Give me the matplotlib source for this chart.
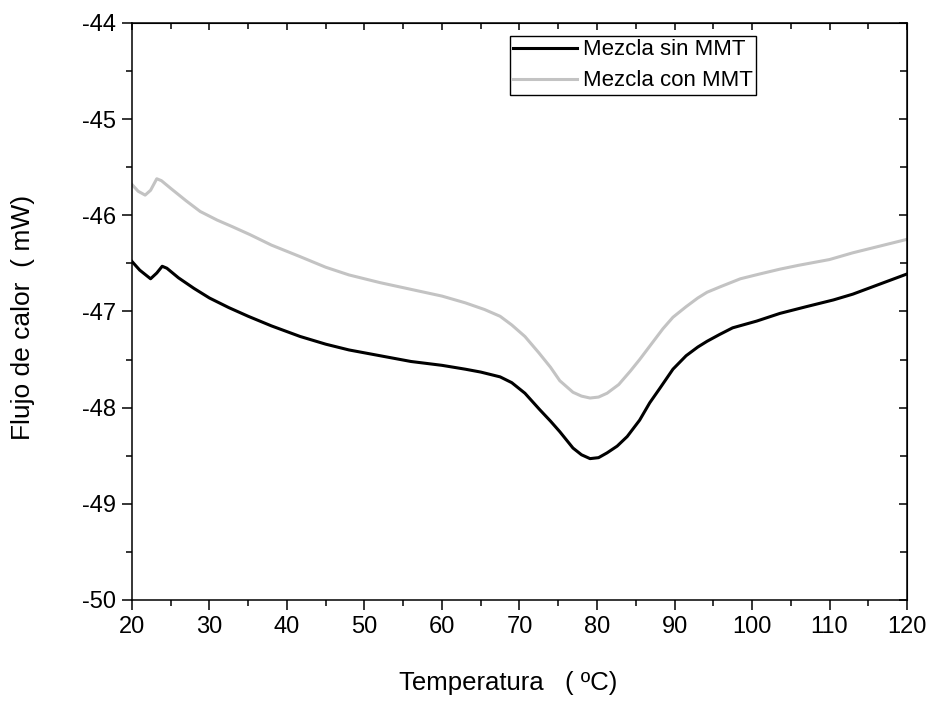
import matplotlib
matplotlib.use("Agg")
import matplotlib.pyplot as plt
from matplotlib.ticker import MultipleLocator

plt.rcParams["font.family"] = ["Liberation Sans", "DejaVu Sans"]
plt.rcParams["axes.unicode_minus"] = False

# DSC traces, heat flow vs temperature
temp_sin = [20, 21, 22.4, 23.2, 23.9, 24.5, 26, 28, 30, 32.5, 35, 38, 41.7, 45,
            48, 52, 56, 60, 63, 65, 67.5, 69, 70.7, 72.6, 74, 75.2, 76.9, 78,
            79.1, 80.2, 81.3, 82.6, 83.9, 85.5, 86.8, 88.1, 89.8, 91.5, 93,
            94.2, 95.8, 97.5, 100.6, 103.6, 107, 110.5, 113, 116, 120]
flujo_sin = [-46.48, -46.57, -46.66, -46.60, -46.53, -46.55, -46.65, -46.76,
             -46.86, -46.96, -47.05, -47.15, -47.26, -47.34, -47.40, -47.46,
             -47.52, -47.56, -47.60, -47.63, -47.68, -47.74, -47.85, -48.02,
             -48.14, -48.25, -48.42, -48.49, -48.53, -48.52, -48.47, -48.40,
             -48.30, -48.13, -47.95, -47.80, -47.60, -47.46, -47.37, -47.31,
             -47.24, -47.17, -47.10, -47.02, -46.95, -46.88, -46.82, -46.73,
             -46.61]

temp_con = [20, 20.8, 21.7, 22.4, 23.2, 23.8, 25, 27, 28.8, 31, 33, 35.2, 38,
            41.7, 45, 48, 52, 56, 60, 63, 65.5, 67.5, 69, 70.7, 72.5, 74, 75.2,
            76.9, 78, 79.1, 80.2, 81.3, 82.8, 84.3, 85.5, 87, 88.5, 89.8, 91.5,
            93, 94.2, 96, 98.5, 101, 103.6, 106, 110, 113, 116, 120]
flujo_con = [-45.68, -45.75, -45.79, -45.74, -45.62, -45.64, -45.72, -45.85,
             -45.96, -46.05, -46.12, -46.20, -46.31, -46.43, -46.54, -46.62,
             -46.70, -46.77, -46.84, -46.91, -46.98, -47.05, -47.14, -47.26,
             -47.43, -47.58, -47.72, -47.84, -47.88, -47.90, -47.89, -47.85,
             -47.76, -47.62, -47.50, -47.34, -47.18, -47.06, -46.95, -46.86,
             -46.80, -46.74, -46.66, -46.61, -46.56, -46.52, -46.46, -46.39,
             -46.33, -46.25]

fig = plt.figure(figsize=(9.32, 7.02), dpi=100)
ax = fig.add_axes([0.1416, 0.1453, 0.8316, 0.8220])

ax.plot(temp_sin, flujo_sin, color="black", linewidth=2.2, label="Mezcla sin MMT")
ax.plot(temp_con, flujo_con, color="#c3c3c3", linewidth=2.2, label="Mezcla con MMT")

ax.set_xlim(20, 120)
ax.set_ylim(-50, -44)
ax.xaxis.set_major_locator(MultipleLocator(10))
ax.xaxis.set_minor_locator(MultipleLocator(5))
ax.yaxis.set_major_locator(MultipleLocator(1))
ax.yaxis.set_minor_locator(MultipleLocator(0.5))

for s in ax.spines.values():
    s.set_linewidth(1.1)

ax.tick_params(which="major", direction="out", length=7.5, width=1.1,
               labelsize=17, pad=4)
ax.tick_params(which="minor", direction="out", length=4, width=1.1)
# mirrored ticks on the top and right edges point inward
ax2 = ax.secondary_xaxis("top")
ax2.xaxis.set_major_locator(MultipleLocator(10))
ax2.xaxis.set_minor_locator(MultipleLocator(5))
ax2.tick_params(which="major", direction="in", length=5, width=1.1, labeltop=False)
ax2.tick_params(which="minor", direction="in", length=4, width=1.1)
ay2 = ax.secondary_yaxis("right")
ay2.yaxis.set_major_locator(MultipleLocator(1))
ay2.yaxis.set_minor_locator(MultipleLocator(0.5))
ay2.tick_params(which="major", direction="in", length=6, width=1.1, labelright=False)
ay2.tick_params(which="minor", direction="in", length=5, width=1.1)

ax.set_xlabel("Temperatura   ( ºC)", fontsize=18.5)
ax.set_ylabel("Flujo de calor  ( mW)", fontsize=19)
ax.xaxis.set_label_coords(0.485, -0.123)
ax.yaxis.set_label_coords(-0.125, 0.49)

leg = ax.legend(loc="upper left", bbox_to_anchor=(510 / 932, 1 - 36 / 702),
                bbox_transform=fig.transFigure, fontsize=16, handlelength=2.85,
                handletextpad=0.27, borderpad=0.15, labelspacing=0.45,
                borderaxespad=0, fancybox=False, framealpha=1)
leg.get_frame().set_edgecolor("black")
leg.get_frame().set_linewidth(1.0)

plt.savefig("out.png", dpi=100)
plt.close()
